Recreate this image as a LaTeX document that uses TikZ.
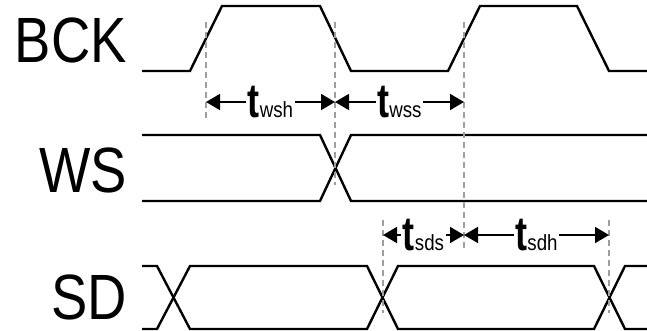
\documentclass[tikz,border=0pt]{standalone}
\usepackage{fontspec}
\setmainfont{Liberation Sans}
\newfontfamily\narrowfont[FakeStretch=0.85]{Liberation Sans}
\newfontfamily\tallfont[FakeStretch=0.75]{Liberation Sans}
\usetikzlibrary{arrows.meta,positioning}
\tikzset{
  wave/.style={line width=2.4pt, line join=miter},
  guide/.style={gray!75, line width=1.6pt, dash pattern=on 6pt off 4pt},
  span/.style={line width=1.8pt, {Triangle[length=14pt,width=16pt]}-{Triangle[length=14pt,width=16pt]}},
  sig/.style={font=\narrowfont\fontsize{64}{64}\selectfont, anchor=east, inner sep=0pt},
  tlabel/.style={fill=white, inner sep=1.5pt, font=\narrowfont\fontsize{22}{22}\selectfont}
}
\newcommand{\tsub}[1]{{\tallfont\bfseries\fontsize{48}{48}\selectfont t}#1}
\begin{document}
\begin{tikzpicture}[x=1pt,y=-1pt]
\useasboundingbox (0,0) rectangle (647,331);
% signal names
\node[sig] (bck) at (127,40) {BCK};
\node[sig] (ws) at (127,170) {WS};
\node[sig] (sd) at (127,297) {SD};
% waveforms
\draw[wave] (142,71) -- (190,71) -- (222,6) -- (320,6) -- (351,71) -- (448,71) -- (480,6) -- (577,6) -- (609,71) -- (647,71);
\draw[wave] (142,135) -- (320,135) -- (351,201) -- (647,201);
\draw[wave] (142,201) -- (320,201) -- (351,135) -- (647,135);
\draw[wave] (142,266) -- (157,266) -- (190,329) -- (367,329) -- (398,266) -- (594,266) -- (625,329) -- (647,329);
\draw[wave] (142,329) -- (157,329) -- (190,266) -- (367,266) -- (398,329) -- (594,329) -- (625,266) -- (647,266);
% guide lines
\draw[guide] (206,22) -- (206,118);
\draw[guide] (335,22) -- (335,185);
\draw[guide] (464,22) -- (464,248);
\draw[guide] (383,220) -- (383,313);
\draw[guide] (609,220) -- (609,313);
% timing spans
\coordinate (wsh-l) at (206,102);
\coordinate (wsh-r) at (335,102);
\coordinate (wss-r) at (464,102);
\coordinate (sds-l) at (383,235);
\coordinate (sds-r) at (464,235);
\coordinate (sdh-r) at (609,235);
\draw[span] (wsh-l) -- node[tlabel] (twsh) {\tsub{wsh}} (wsh-r);
\draw[span] (wsh-r) -- node[tlabel] (twss) {\tsub{wss}} (wss-r);
\draw[span] (sds-l) -- node[tlabel] (tsds) {\tsub{sds}} (sds-r);
\draw[span] (sds-r) -- node[tlabel] (tsdh) {\tsub{sdh}} (sdh-r);
\end{tikzpicture}
\end{document}
